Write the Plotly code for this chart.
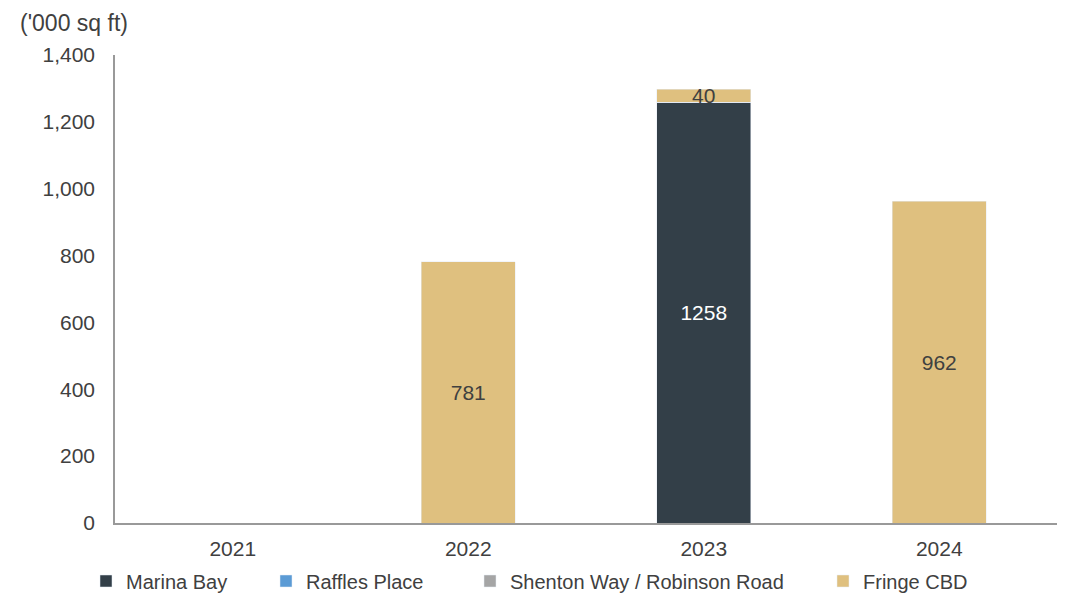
import plotly.graph_objects as go

years = ["2021", "2022", "2023", "2024"]
marina_bay = [0, 0, 1258, 0]
raffles_place = [0, 0, 0, 0]
shenton_way = [0, 0, 0, 0]
fringe_cbd = [0, 781, 40, 962]

series = [
    ("Marina Bay", marina_bay, "#333F48", "white"),
    ("Raffles Place", raffles_place, "#5B9BD5", "#404040"),
    ("Shenton Way / Robinson Road", shenton_way, "#A5A5A5", "#404040"),
    ("Fringe CBD", fringe_cbd, "#DFC07F", "#404040"),
]

FONT = "Liberation Sans, Arial, sans-serif"
fig = go.Figure()
legend_names = ["legend", "legend2", "legend3", "legend4"]
for i, (name, vals, color, tcol) in enumerate(series):
    fig.add_trace(go.Bar(
        x=years, y=vals, name=name, marker_color=color,
        text=[str(v) if v else "" for v in vals],
        textposition="inside", insidetextanchor="middle",
        textfont=dict(color=tcol, size=21, family=FONT),
        constraintext="none", cliponaxis=False,
        legend=legend_names[i],
    ))

OFF = 8  # page body margin
W, H = 1072 - OFF, 595 - OFF
ml, mr, mt, mb = 115 - OFF, 15, 55 - OFF, 72
pw = W - ml - mr
ph = H - mt - mb
legend_text_px = [124, 304, 508, 861]
layout_legends = {}
for i, px in enumerate(legend_text_px):
    layout_legends[legend_names[i]] = dict(
        xref="container", yref="container",
        x=(px + 2 - 48) / W, xanchor="left",
        y=1 - (581 - OFF) / H, yanchor="middle",
        orientation="h", font=dict(size=20, color="#404040", family=FONT),
        bgcolor="rgba(0,0,0,0)", itemwidth=30, tracegroupgap=0,
    )

fig.update_layout(
    width=W, height=H,
    margin=dict(l=ml, r=mr, t=mt, b=mb, autoexpand=False),
    barmode="stack", bargap=0.6,
    plot_bgcolor="white", paper_bgcolor="white",
    font=dict(family=FONT, size=21, color="#404040"),
    uniformtext=dict(minsize=21, mode="show"),
    showlegend=True,
    **layout_legends,
)
fig.update_xaxes(
    showline=True, linecolor="#999999", linewidth=1.5, showgrid=False,
    ticks="", ticklabelstandoff=6, automargin=False,
    tickfont=dict(size=21, color="#404040"),
)
fig.update_yaxes(
    range=[0, 1400], dtick=200, tickformat=",",
    showline=True, linecolor="#999999", linewidth=1.5, showgrid=False,
    zeroline=False, ticks="", ticklabelstandoff=14, automargin=False,
    tickfont=dict(size=21, color="#404040"),
)
fig.add_annotation(
    text="('000 sq ft)", xref="paper", yref="paper",
    x=(22 - 3 - 115) / pw, xanchor="left", y=1, yanchor="middle", yshift=32,
    showarrow=False, borderpad=0,
    font=dict(size=23, color="#404040", family=FONT),
)
fig.write_html("out.html")
